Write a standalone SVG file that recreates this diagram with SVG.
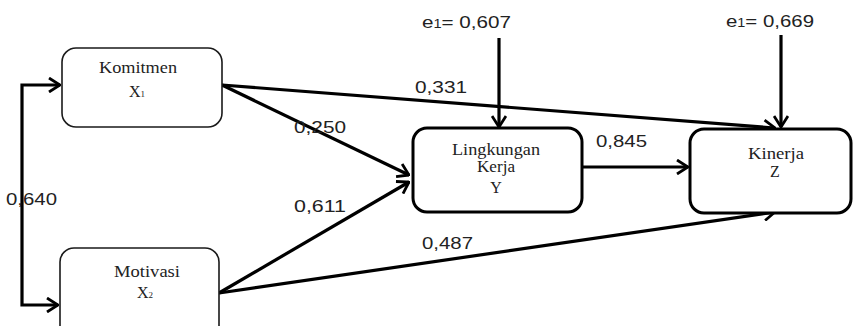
<svg xmlns="http://www.w3.org/2000/svg" width="853" height="326" viewBox="0 0 853 326">
  <style>
    .bg { fill: #ffffff; }
    .box1 { fill: #ffffff; stroke: #1a1a1a; stroke-width: 1.6; }
    .box2 { fill: #ffffff; stroke: #000000; stroke-width: 3; }
    .node { font-family: "Liberation Serif", "DejaVu Serif", serif; font-size: 16px; fill: #222222; text-anchor: middle; }
    .lbl { font-family: "Liberation Sans", Arial, sans-serif; font-size: 16px; fill: #222222; }
    .err { font-family: "Liberation Sans", Arial, sans-serif; font-size: 17px; fill: #222222; }
    .edge { fill: none; stroke: #000000; stroke-width: 3.2; marker-end: url(#arr); }
  </style>
  <defs>
    <marker id="arr" viewBox="0 0 13 16" refX="12" refY="8" markerWidth="13" markerHeight="16" markerUnits="userSpaceOnUse" orient="auto-start-reverse">
      <path d="M1,1 L12,8 L1,15" fill="none" stroke="#000000" stroke-width="2.8" stroke-linejoin="miter"/>
    </marker>
  </defs>
  <rect class="bg" x="0" y="0" width="853" height="326"/>

  <g id="connectors">
    <path class="edge" d="M60,85 H22 V305 H58" style="marker-start:url(#arr)"/>
    <path class="edge" d="M222,85 L775,128"/>
    <path class="edge" d="M222,85 L409,175"/>
    <path class="edge" d="M219,293 L409,182"/>
    <path class="edge" d="M219,293 L775,212"/>
    <path class="edge" d="M582,167 L688,167"/>
    <path class="edge" d="M499,38 L499,127"/>
    <path class="edge" d="M781,35 L781,127"/>
  </g>

  <g id="labels">
    <text class="lbl" x="415" y="93" textLength="52" lengthAdjust="spacingAndGlyphs">0,331</text>
    <text class="lbl" x="294" y="133" textLength="52" lengthAdjust="spacingAndGlyphs">0,250</text>
    <text class="lbl" x="294" y="212" textLength="52" lengthAdjust="spacingAndGlyphs">0,611</text>
    <text class="lbl" x="422" y="249" textLength="51" lengthAdjust="spacingAndGlyphs">0,487</text>
    <text class="lbl" x="596" y="147" textLength="51" lengthAdjust="spacingAndGlyphs">0,845</text>
    <text class="lbl" x="6" y="205" textLength="51" lengthAdjust="spacingAndGlyphs">0,640</text>
  </g>

  <g id="err-y">
    <text class="err" x="422" y="28" textLength="89" lengthAdjust="spacingAndGlyphs">e<tspan font-size="12">1</tspan>= 0,607</text>
  </g>
  <g id="err-z">
    <text class="err" x="726" y="27" textLength="88" lengthAdjust="spacingAndGlyphs">e<tspan font-size="12">1</tspan>= 0,669</text>
  </g>

  <g id="komitmen">
    <rect class="box1" x="62" y="48" width="160" height="79" rx="14"/>
    <text class="node" x="138" y="73" textLength="78" lengthAdjust="spacingAndGlyphs">Komitmen</text>
    <text class="node" x="137" y="97">X<tspan font-size="9">1</tspan></text>
  </g>

  <g id="motivasi">
    <rect class="box1" x="60" y="248" width="159" height="100" rx="14"/>
    <text class="node" x="147" y="277" textLength="66" lengthAdjust="spacingAndGlyphs">Motivasi</text>
    <text class="node" x="145" y="298">X<tspan font-size="9">2</tspan></text>
  </g>

  <g id="lingkungan">
    <rect class="box2" x="413" y="128" width="169" height="84" rx="14"/>
    <text class="node" x="496" y="155" textLength="88" lengthAdjust="spacingAndGlyphs">Lingkungan</text>
    <text class="node" x="496" y="172" textLength="38" lengthAdjust="spacingAndGlyphs">Kerja</text>
    <text class="node" x="496" y="193">Y</text>
  </g>

  <g id="kinerja">
    <rect class="box2" x="690" y="129" width="161" height="84" rx="14"/>
    <text class="node" x="776" y="159" textLength="56" lengthAdjust="spacingAndGlyphs">Kinerja</text>
    <text class="node" x="775" y="177">Z</text>
  </g>
</svg>
